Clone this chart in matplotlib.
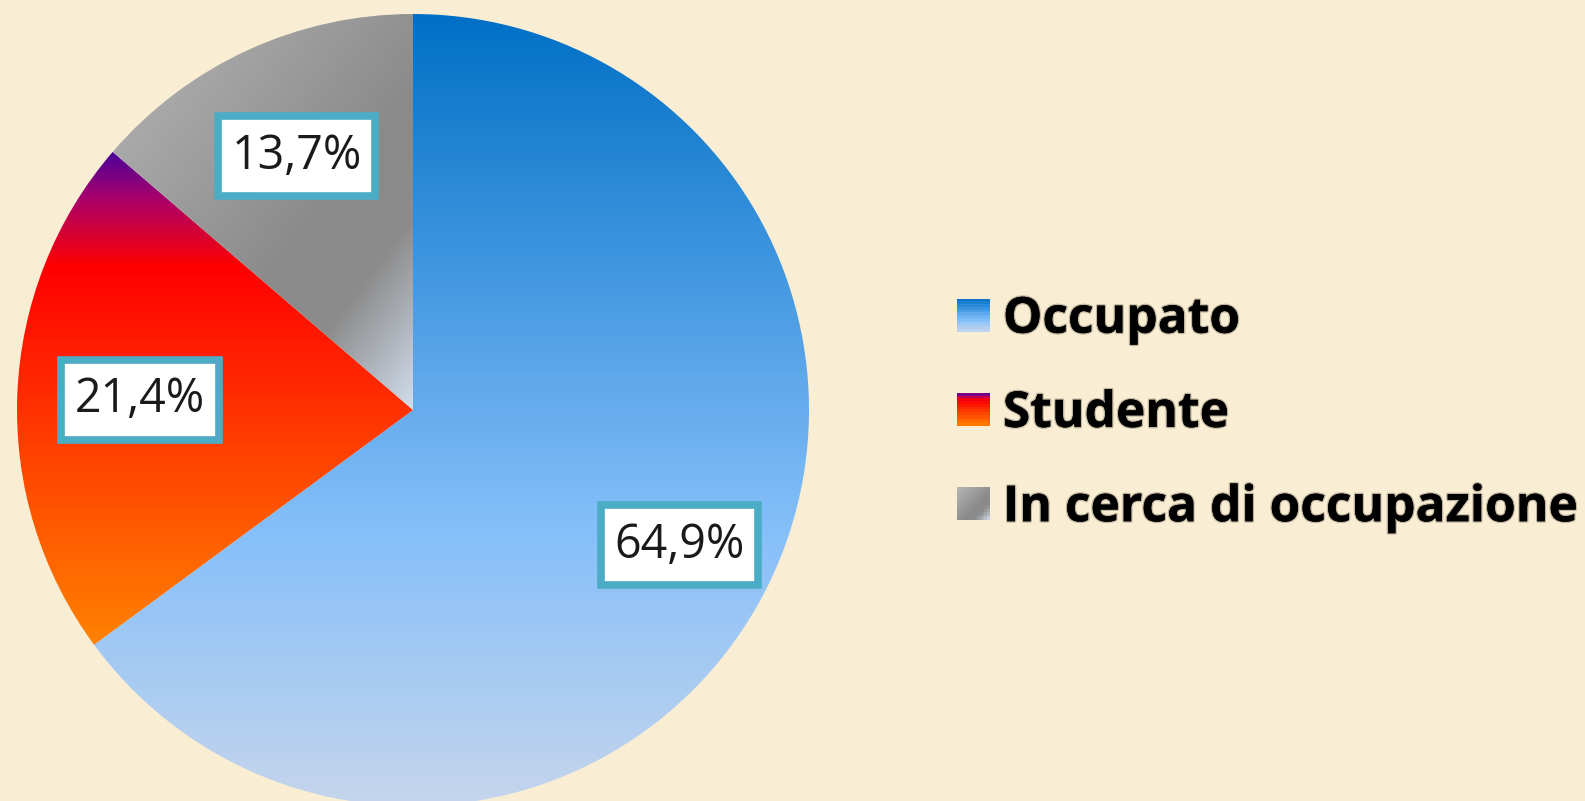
import numpy as np
import matplotlib
matplotlib.use("Agg")
import matplotlib.pyplot as plt
import matplotlib.patheffects as pe
from matplotlib.colors import LinearSegmentedColormap
from matplotlib.patches import Rectangle
from matplotlib.legend_handler import HandlerBase

# data
categories = ["Occupato", "Studente", "In cerca di occupazione"]
values = [64.9, 21.4, 13.7]

# gradient stops per slice (position, colour)
grad_stops = [
    [(0.0, "#0070C6"), (0.65, "#85BFFA"), (1.0, "#C5D5EC")],
    [(0.0, "#4E0098"), (0.09, "#A8006C"), (0.23, "#FF0000"), (1.0, "#FF8200")],
    [(0.0, "#B6B6B6"), (0.6, "#8A8A8A"), (0.76, "#8C8C8C"), (1.0, "#D2DDEC")],
]
grad_diag = [False, False, True]
label_radius = [0.755, 0.69, 0.705]

bg = "#F9EED4"
box_edge = "#4BACC6"

cmaps = [LinearSegmentedColormap.from_list(f"g{i}", s) for i, s in enumerate(grad_stops)]


def grad_t(X, Y, x0, x1, y0, y1, diag):
    v = (y1 - Y) / (y1 - y0)
    if not diag:
        return v
    u = (X - x0) / (x1 - x0)
    return (u + v) / 2


class GradientHandle:
    def __init__(self, cmap, diag):
        self.cmap = cmap
        self.diag = diag


class HandlerGradient(HandlerBase):
    def create_artists(self, legend, orig_handle, xdescent, ydescent,
                       width, height, fontsize, trans):
        n = 12
        arts = []
        for i in range(n):
            for j in range(n):
                u = (j + 0.5) / n
                v = (i + 0.5) / n
                t = (u + v) / 2 if orig_handle.diag else v
                r = Rectangle((-xdescent + j * width / n, -ydescent + height - (i + 1) * height / n),
                              width / n * 1.02, height / n * 1.02,
                              facecolor=orig_handle.cmap(t), edgecolor="none",
                              transform=trans)
                arts.append(r)
        return arts


W, H = 1585, 801
fig = plt.figure(figsize=(W / 100, H / 100), dpi=100)
fig.patch.set_facecolor(bg)

cx, cy, rad = 413, 410, 396
ax = fig.add_axes([(cx - rad) / W, (H - cy - rad) / H, 2 * rad / W, 2 * rad / H])
ax.set_facecolor("none")

wedges, _ = ax.pie(values, startangle=90, counterclock=False, radius=1,
                   wedgeprops=dict(linewidth=0))

for w, cmap, diag in zip(wedges, cmaps, grad_diag):
    w.set_facecolor("none")
    bb = w.get_path().get_extents()
    x0, y0, x1, y1 = bb.x0, bb.y0, bb.x1, bb.y1
    xs = np.linspace(x0, x1, 300)
    ys = np.linspace(y0, y1, 300)
    X, Y = np.meshgrid(xs, ys)
    rgb = cmap(grad_t(X, Y, x0, x1, y0, y1, diag))
    im = ax.imshow(rgb, extent=(x0, x1, y0, y1), origin="lower",
                   interpolation="bilinear", zorder=1)
    im.set_clip_path(w)

ax.set_aspect("auto")
ax.set_xlim(-1, 1)
ax.set_ylim(-1, 1)
ax.axis("off")

# percentage labels
for w, val, rr in zip(wedges, values, label_radius):
    ang = np.deg2rad((w.theta1 + w.theta2) / 2)
    txt = f"{val:.1f}%".replace(".", ",")
    ax.text(rr * np.cos(ang), rr * np.sin(ang), txt, ha="center", va="center",
            fontsize=33.5, family="Open Sans", color="#1A1A1A", zorder=5,
            bbox=dict(boxstyle="square,pad=0.29", mutation_aspect=1.2,
                      facecolor="white", edgecolor=box_edge, linewidth=5.5))

handles = [GradientHandle(c, d) for c, d in zip(cmaps, grad_diag)]
fs = 35.8
px = fs * 100 / 72
leg = fig.legend(handles, categories, handler_map={GradientHandle: HandlerGradient()},
                 loc="center left", bbox_to_anchor=(932 / W, 1 - 414 / H),
                 frameon=False, handlelength=33 / px, handleheight=32 / px,
                 handletextpad=13 / px, labelspacing=0.89, borderpad=0,
                 prop={"family": "Open Sans", "weight": "bold", "size": fs})
for t in leg.get_texts():
    t.set_path_effects([pe.withStroke(linewidth=2, foreground="#3a3020", alpha=0.3),
                        pe.Normal()])

fig.savefig("out.png", dpi=100, facecolor=bg)
